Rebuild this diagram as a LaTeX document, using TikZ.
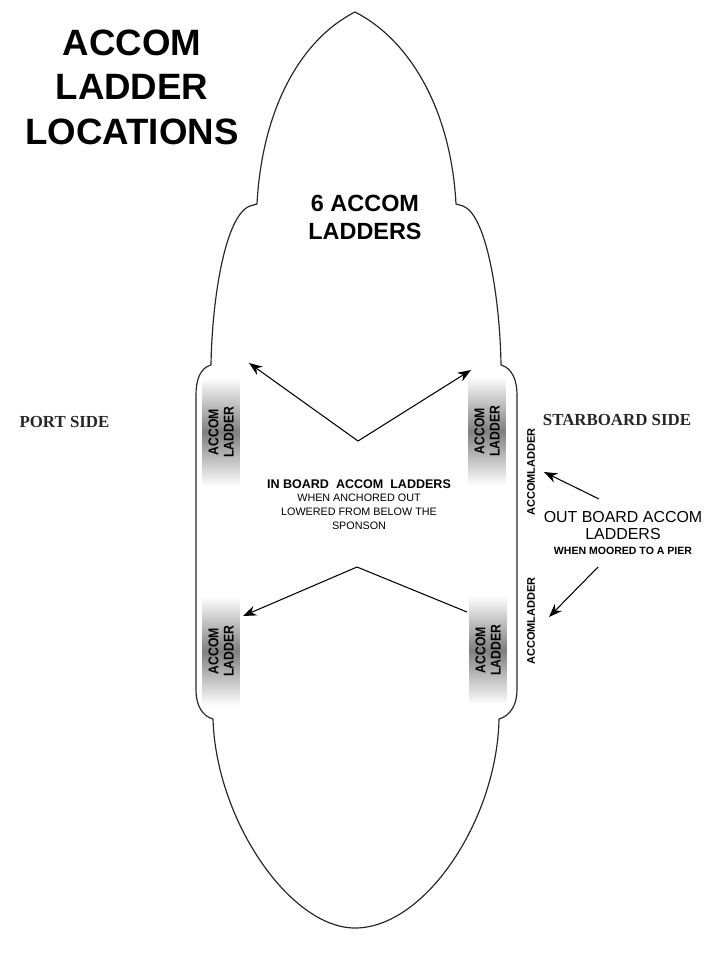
\documentclass[tikz,border=0pt]{standalone}
\usepackage{fontspec}
\setmainfont{Liberation Sans}
\newfontfamily\serifbf{Liberation Serif}
\newfontfamily\narrowbf[FakeStretch=0.87]{Liberation Sans}
\usetikzlibrary{arrows.meta,positioning}
\tikzset{
  hull/.style={line width=1pt,black!85,line join=round},
  ptr/.style={-{Stealth[length=4mm,width=3mm]},line width=0.9pt},
  ladder/.style={rotate=90,minimum width=32.7mm,minimum height=11mm,inner sep=0pt,
    top color=white,bottom color=white,middle color=black!50,
    align=center,font=\fontsize{12}{13}\selectfont\narrowbf\bfseries},
  sideladder/.style={rotate=90,inner sep=0pt,font=\fontsize{9.4}{11}\selectfont\bfseries},
  sidelbl/.style={font=\fontsize{14.4}{16}\selectfont\serifbf\bfseries,inner sep=0pt,black!85},
}
\begin{document}
\begin{tikzpicture}[x=0.3mm,y=-0.3mm]
  \useasboundingbox (0,0) rectangle (722,962);
  % ship outline, bow to stern, clockwise from the port side
  \draw[hull] (355,12) .. controls (300,40) and (262,110) .. (257,204)
    -- (250,206) .. controls (225,215) and (212,300) .. (211,365)
    .. controls (200,368) and (196,380) .. (196,395) -- (196,690)
    .. controls (196,705) and (202,716) .. (213,719)
    .. controls (216,820) and (290,928) .. (355,928)
    .. controls (425,928) and (497,820) .. (499,719)
    .. controls (510,716) and (517,705) .. (517,690) -- (517,395)
    .. controls (517,380) and (512,368) .. (501,365)
    .. controls (500,300) and (487,215) .. (463,206)
    -- (456,204) .. controls (451,110) and (410,40) .. (355,12) -- cycle;
  \node[font=\fontsize{31.3}{38}\selectfont\bfseries,align=center,inner sep=0pt] (title) at (132,87)
    {ACCOM\\LADDER\\LOCATIONS};
  \node[font=\fontsize{20}{24}\selectfont\bfseries,align=center,inner sep=0pt] (count) at (365,217)
    {6 ACCOM\\LADDERS};
  \node[sidelbl] (port) at (64.5,422) {PORT SIDE};
  \node[sidelbl] (stbd) at (617,420) {STARBOARD SIDE};
  \foreach \nm/\cx/\cy in {lup/221/432,rup/487/431,llo/221/651,rlo/488/650}{
    \node[ladder] (\nm) at (\cx,\cy) {ACCOM\\LADDER};
  }
  \node[sideladder] (sideup) at (531,472) {ACCOMLADDER};
  \node[sideladder] (sidelo) at (531,621) {ACCOMLADDER};
  \node[align=center,inner sep=0pt] (inboard) at (359,505)
    {{\fontsize{10.7}{12}\selectfont\bfseries IN BOARD\ \ ACCOM\ \ LADDERS}\\[-1pt]
     \fontsize{9.2}{12}\selectfont WHEN ANCHORED OUT\\
     \fontsize{9.2}{12}\selectfont LOWERED FROM BELOW THE\\
     \fontsize{9.2}{12}\selectfont SPONSON};
  \node[align=center,inner sep=0pt] (outboard) at (623,533)
    {\fontsize{13.6}{15.6}\selectfont OUT BOARD ACCOM\\[3pt]
     \fontsize{13.6}{15.6}\selectfont LADDERS\\[1pt]
     {\fontsize{9}{10}\selectfont\bfseries WHEN MOORED TO A PIER}};
  % arrow ends
  \coordinate (intop) at (358,441);
  \coordinate (inbot) at (357,567);
  \coordinate (outtop) at (599,499);
  \coordinate (outbot) at (598,567);
  \coordinate (tiplup) at (249,363);
  \coordinate (tiprup) at (471,370);
  \coordinate (tipllo) at (243,616);
  \coordinate (startrlo) at (467,612);
  \coordinate (tipsideup) at (544,472);
  \coordinate (tipsidelo) at (549,617);
  \draw[ptr] (intop) -- (tiplup);
  \draw[ptr] (intop) -- (tiprup);
  \draw[ptr] (inbot) -- (tipllo);
  \draw[line width=0.9pt] (inbot) -- (startrlo);
  \draw[ptr] (outtop) -- (tipsideup);
  \draw[ptr] (outbot) -- (tipsidelo);
\end{tikzpicture}
\end{document}
